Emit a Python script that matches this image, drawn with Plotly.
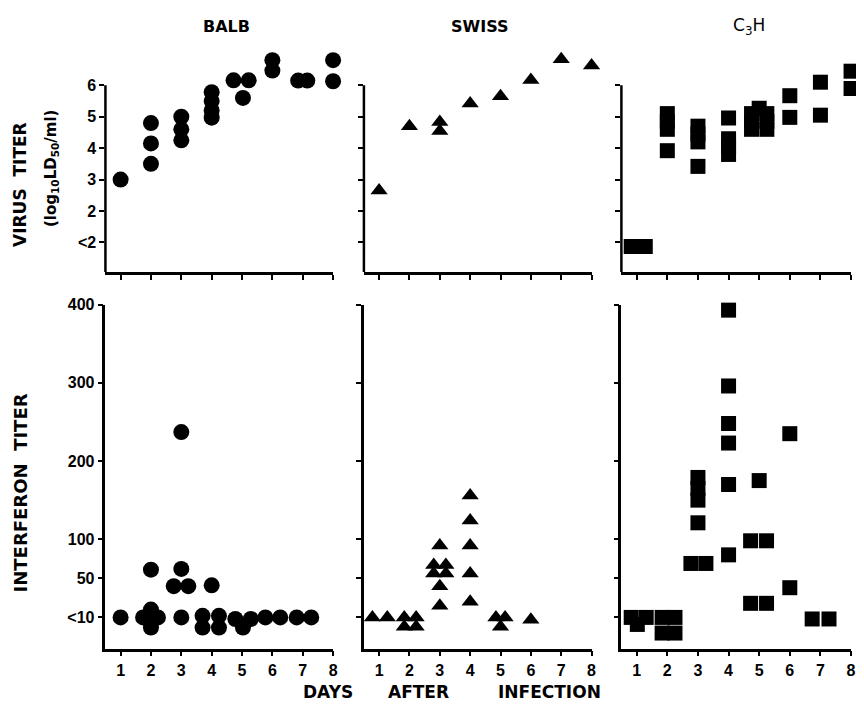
import plotly.graph_objects as go

# ---------------- data ----------------
day_ticks = [1, 2, 3, 4, 5, 6, 7, 8]
day_ticktext = ["1", "2", "3", "4", "5", "6", "7", "8"]
virus_ticks = [1, 2, 3, 4, 5, 6]
virus_ticktext = ["&lt;2", "2", "3", "4", "5", "6"]
ifn_ticks = [0, 50, 100, 200, 300, 400]
ifn_ticktext = ["&lt;10", "50", "100", "200", "300", "400"]

strains = ["BALB", "SWISS", "C<sub>3</sub>H"]
xtitle_words = ["DAYS", "AFTER", "INFECTION"]

# Virus titer (log10 LD50/ml), "<2" plotted at 1
balb_virus_day = [1, 2, 2, 2, 3, 3, 3, 4, 4, 4, 4, 4.72, 5.22, 5.03, 6, 6, 6.85, 7.15, 8, 8]
balb_virus = [3.0, 4.8, 4.15, 3.5, 5.0, 4.6, 4.25, 5.78, 5.5, 5.2, 4.97, 6.16, 6.16, 5.6,
              6.8, 6.47, 6.15, 6.15, 6.8, 6.13]

swiss_virus_day = [1, 2, 3, 3, 4, 5, 6, 7, 8]
swiss_virus = [2.65, 4.7, 4.83, 4.55, 5.42, 5.65, 6.17, 6.83, 6.63]

c3h_virus_day = [0.82, 1.05, 1.28, 2, 2, 2, 2, 3, 3, 3, 3, 4, 4, 4, 4,
                 4.75, 4.75, 4.75, 5.0, 5.25, 5.25, 5.25, 6, 6, 7, 7, 8, 8]
c3h_virus = [0.87, 0.87, 0.87, 5.1, 4.85, 4.6, 3.92, 4.7, 4.45, 4.2, 3.42, 4.96, 4.3, 4.05, 3.8,
             5.1, 4.85, 4.6, 5.27, 5.1, 4.85, 4.6, 5.67, 4.98, 6.1, 5.05, 6.45, 5.9]

# Interferon titer, "<10" plotted at 0
balb_ifn_day = [1, 2, 1.74, 2.0, 2.23, 2, 2, 3, 3, 2.75, 3.23, 3, 4, 3.7, 4.24, 3.7, 4.24,
                4.78, 5.29, 5.03, 5.77, 6.26, 6.8, 7.28]
balb_ifn = [0, 61, 0, 0, 0, 10, -13, 237, 62, 40, 40, 0, 41, 2, 2, -13, -13,
            -2, -2, -13, 0, 0, 0, 0]

swiss_ifn_day = [0.78, 1.27, 1.83, 2.22, 1.83, 2.22, 3, 2.8, 3.2, 2.8, 3.2, 3, 3,
                 4, 4, 4, 4, 4, 4.85, 5.15, 5.0, 6]
swiss_ifn = [0, 0, 0, 0, -12, -12, 92, 67, 67, 56, 56, 40, 15,
             156, 124, 92, 56, 20, 0, 0, -12, -3]

c3h_ifn_day = [0.82, 1.31, 1.02, 1.83, 2.25, 1.83, 2.25, 4, 4, 4, 4, 4, 4, 6, 6,
               5.0, 4.72, 5.24, 4.72, 5.24, 3, 3, 3, 3, 2.77, 3.26, 6.73, 7.28]
c3h_ifn = [0, 0, -9, 0, 0, -20, -20, 393, 296, 248, 223, 170, 80, 235, 38,
           175, 98, 98, 18, 18, 179, 165, 150, 121, 69, 69, -2, -2]

# ---------------- figure ----------------
OFF = 8                      # default page body margin
W, H = 864 - OFF, 708 - OFF


def px_x(v):
    return (v - OFF) / W


def px_y(v):
    return 1 - (v - OFF) / H


xdoms = [[px_x(106), px_x(335)], [px_x(366), px_x(595)], [px_x(625), px_x(856)]]
ydom_top = [px_y(267), px_y(40)]
ydom_bot = [px_y(648), px_y(300)]
vir_range = [0.057, 7.2]
ifn_range = [-40, 400]

fig = go.Figure()

series = [
    (balb_virus_day, balb_virus, "circle", 16, "x", "y"),
    (swiss_virus_day, swiss_virus, "triangle-up", 15, "x2", "y2"),
    (c3h_virus_day, c3h_virus, "square", 15, "x3", "y3"),
    (balb_ifn_day, balb_ifn, "circle", 16, "x4", "y4"),
    (swiss_ifn_day, swiss_ifn, "triangle-up", 15, "x5", "y5"),
    (c3h_ifn_day, c3h_ifn, "square", 15, "x6", "y6"),
]
for xs, ys, sym, sz, xa, ya in series:
    fig.add_trace(go.Scatter(
        x=xs, y=ys, mode="markers", xaxis=xa, yaxis=ya, cliponaxis=False,
        marker=dict(symbol=sym, size=sz, color="black", line=dict(width=0)),
        showlegend=False, hoverinfo="skip"))

tickfont = dict(family="Liberation Sans", size=16, color="black", weight="bold")
common = dict(linecolor="black", linewidth=2.5, ticks="outside",
              ticklen=5, tickwidth=1.5, tickcolor="black", showgrid=False,
              zeroline=False, tickfont=tickfont, fixedrange=True)

layout = dict(width=W, height=H, margin=dict(l=0, r=0, t=0, b=0),
              paper_bgcolor="white", plot_bgcolor="white",
              font=dict(family="Liberation Sans", color="black"))

shapes = []
for i in range(6):
    n = "" if i == 0 else str(i + 1)
    col = i % 3
    top = i < 3
    layout["xaxis" + n] = dict(common, showline=True, domain=xdoms[col], range=[0.5, 8],
                               anchor="y" + n, tickvals=day_ticks, ticktext=day_ticktext,
                               showticklabels=not top)
    if top:
        layout["yaxis" + n] = dict(common, showline=False, domain=ydom_top, range=vir_range,
                                   anchor="x" + n, tickvals=virus_ticks,
                                   ticktext=virus_ticktext, showticklabels=(col == 0))
        # vertical axis line only up to the "6" tick
        shapes.append(dict(type="line", xref="x" + n + " domain", yref="y" + n,
                           x0=0, x1=0, y0=vir_range[0], y1=virus_ticks[-1],
                           line=dict(color="black", width=2.5)))
    else:
        layout["yaxis" + n] = dict(common, showline=True, domain=ydom_bot, range=ifn_range,
                                   anchor="x" + n, tickvals=ifn_ticks,
                                   ticktext=ifn_ticktext, showticklabels=(col == 0))
layout["shapes"] = shapes

title_font = dict(family="DejaVu Sans", size=16, color="black", weight="bold")
ann = []
title_x = [228, 482, 753]
for s, tx in zip(strains, title_x):
    f = dict(title_font)
    if "sub" in s:
        f["weight"] = "normal"
        f["size"] = 17
    ann.append(dict(text=s, x=px_x(tx), y=px_y(19), xref="paper", yref="paper",
                    showarrow=False, xanchor="center", yanchor="middle", font=f))

ann.append(dict(text="VIRUS  TITER", x=px_x(20), y=px_y(178), xref="paper", yref="paper",
                showarrow=False, textangle=-90, xanchor="center", yanchor="middle",
                font=dict(title_font, size=17)))
ann.append(dict(text="(log<sub>10</sub>LD<sub>50</sub>/ml)", x=px_x(51), y=px_y(162),
                xref="paper", yref="paper", showarrow=False, textangle=-90,
                xanchor="center", yanchor="middle",
                font=dict(family="DejaVu Sans", size=15, color="black", weight="bold")))
ann.append(dict(text="INTERFERON  TITER", x=px_x(21), y=px_y(490), xref="paper",
                yref="paper", showarrow=False, textangle=-90, xanchor="center",
                yanchor="middle", font=dict(title_font, size=18)))
for word, cx in zip(xtitle_words, [330, 421, 553]):
    ann.append(dict(text=word, x=px_x(cx), y=px_y(692), xref="paper", yref="paper",
                    showarrow=False, xanchor="center", yanchor="middle",
                    font=dict(title_font, size=17)))
layout["annotations"] = ann

fig.update_layout(**layout)
fig.write_html("out.html")
